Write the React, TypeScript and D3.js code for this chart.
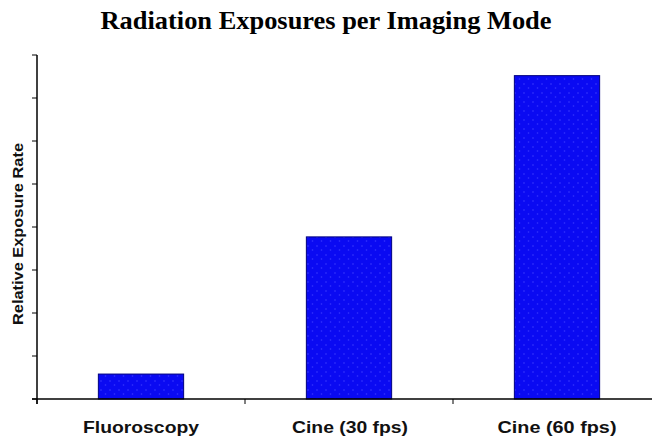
import * as d3 from 'd3';

const categories = ['Fluoroscopy', 'Cine (30 fps)', 'Cine (60 fps)'];
const values = [0.58, 3.77, 7.52];
const yTicks = [0, 1, 2, 3, 4, 5, 6, 7, 8];
const labelWidths = [116, 116, 119];

const W = 652;
const H = 438;
const plot = { left: 37, top: 55, bottom: 399, right: 661 };

export default function App() {
  const x = d3.scaleBand<string>().domain(categories).range([plot.left, plot.right]).padding(0);
  const y = d3.scaleLinear().domain([0, 8]).range([plot.bottom, plot.top]);
  const barW = x.bandwidth() * 0.41;
  const bounds = [plot.left, ...categories.slice(1).map((c) => x(c) as number)];

  return (
    <svg
      width={W}
      height={H}
      style={{ position: 'absolute', left: 0, top: 0, background: '#fff' }}
    >
      <defs>
        <pattern id="grain" width="9" height="9" patternUnits="userSpaceOnUse">
          <rect width="9" height="9" fill="#0a0af2" />
          <circle cx="2" cy="3" r="0.8" fill="#3a3aff" />
          <circle cx="6.5" cy="7" r="0.8" fill="#3535ff" />
        </pattern>
      </defs>
      <text
        x={326}
        y={29}
        textAnchor="middle"
        fontFamily="'Liberation Serif', 'Times New Roman', serif"
        fontWeight="bold"
        fontSize={26}
        textLength={451}
        lengthAdjust="spacingAndGlyphs"
        fill="#000"
      >
        Radiation Exposures per Imaging Mode
      </text>

      {categories.map((c, i) => {
        const cx = (x(c) as number) + x.bandwidth() / 2;
        return (
          <rect
            key={c}
            x={cx - barW / 2}
            y={y(values[i])}
            width={barW}
            height={y(0) - y(values[i])}
            fill="url(#grain)"
            stroke="#000080"
            strokeWidth={1}
          />
        );
      })}

      {/* y axis */}
      <line x1={plot.left} x2={plot.left} y1={plot.top} y2={plot.bottom + 5} stroke="#000" strokeWidth={1.5} />
      {yTicks.map((t) => (
        <line key={t} x1={plot.left - 5} x2={plot.left} y1={y(t)} y2={y(t)} stroke="#000" strokeWidth={1} />
      ))}

      {/* x axis */}
      <line x1={plot.left - 5} x2={W} y1={plot.bottom} y2={plot.bottom} stroke="#000" strokeWidth={1.5} />
      {bounds.map((b) => (
        <line key={b} x1={b} x2={b} y1={plot.bottom} y2={plot.bottom + 5} stroke="#000" strokeWidth={1} />
      ))}

      {categories.map((c, i) => (
        <text
          key={c}
          x={(x(c) as number) + x.bandwidth() / 2 + (i === 1 ? 1 : 0)}
          y={433}
          textAnchor="middle"
          fontFamily="'Liberation Sans', Arial, sans-serif"
          fontWeight="bold"
          fontSize={17}
          textLength={labelWidths[i]}
          lengthAdjust="spacingAndGlyphs"
          fill="#111"
        >
          {c}
        </text>
      ))}

      <text
        transform={`translate(23,234) rotate(-90)`}
        textAnchor="middle"
        fontFamily="'Liberation Sans', Arial, sans-serif"
        fontWeight="bold"
        fontSize={14}
        fill="#111"
        textLength={182}
        lengthAdjust="spacingAndGlyphs"
      >
        Relative Exposure Rate
      </text>
    </svg>
  );
}
